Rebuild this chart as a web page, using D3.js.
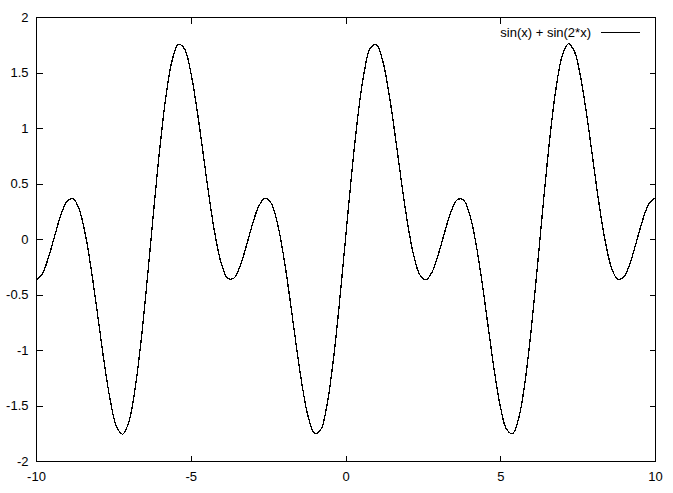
<!DOCTYPE html>
<html>
<head>
<meta charset="utf-8">
<script src="https://cdn.jsdelivr.net/npm/d3@7"></script>
<style>
  body { margin: 0; background: #fff; }
  svg text { font-family: "Liberation Sans", Arial, sans-serif; font-size: 13px; fill: #000; }
</style>
</head>
<body>
<svg id="chart" width="673" height="493"></svg>
<script>
// sin(x) + sin(2*x), sampled every 0.2 from -10 to 10
const xStart = -10;
const xStep = 0.2;
const yValues = [
    -0.369, -0.315, -0.169, 0.025, 0.212, 0.339, 0.364, 0.263, 0.033, -0.303,
    -0.701, -1.106, -1.454, -1.687, -1.759, -1.648, -1.353, -0.904, -0.348, 0.249,
    0.816, 1.287, 1.610, 1.754, 1.712, 1.503, 1.170, 0.771, 0.367, 0.017,
    -0.233, -0.356, -0.351, -0.239, -0.058, 0.138, 0.296, 0.368, 0.321, 0.143,
    -0.153, -0.531, -0.941, -1.320, -1.608, -1.751, -1.717, -1.497, -1.107, -0.588,
    0,
    0.588, 1.107, 1.497, 1.717, 1.751, 1.608, 1.320, 0.941, 0.531, 0.153,
    -0.143, -0.321, -0.368, -0.296, -0.138, 0.058, 0.239, 0.351, 0.356, 0.233,
    -0.017, -0.367, -0.771, -1.170, -1.503, -1.712, -1.754, -1.610, -1.287, -0.816,
    -0.249, 0.348, 0.904, 1.353, 1.648, 1.759, 1.687, 1.454, 1.106, 0.701,
    0.303, -0.033, -0.263, -0.364, -0.339, -0.212, -0.025, 0.169, 0.315, 0.369
];
const xTicks = [-10, -5, 0, 5, 10];
const yTicks = [-2, -1.5, -1, -0.5, 0, 0.5, 1, 1.5, 2];
const seriesName = "sin(x) + sin(2*x)";

function render() {
    const width = 673;
    const height = 493;
    const margin = { top: 17, right: 18, bottom: 32, left: 36 };
    const tickLen = 6;

    var svg = d3.select("#chart");

    var x = d3.scaleLinear()
        .domain([-10, 10])
        .range([margin.left, width - margin.right]);

    var y = d3.scaleLinear()
        .domain([-2, 2])
        .range([height - margin.bottom, margin.top]);

    var data = yValues.map(function (v, i) {
        return { x: xStart + i * xStep, y: v };
    });

    // Axes: labels on bottom/left, mirrored ticks on top/right, all pointing inward.
    var bottom = svg.append("g")
        .attr("transform", "translate(0," + (y.range()[0] + 0.5) + ")")
        .call(d3.axisBottom(x).tickValues(xTicks).tickSize(-tickLen).tickPadding(10)
            .tickFormat(function (d) { return String(d); }));

    var left = svg.append("g")
        .attr("transform", "translate(" + (x.range()[0] + 0.5) + ",0)")
        .call(d3.axisLeft(y).tickValues(yTicks).tickSize(-tickLen).tickPadding(8)
            .tickFormat(function (d) { return String(d); }));

    svg.append("g")
        .attr("transform", "translate(0," + (y.range()[1] + 0.5) + ")")
        .call(d3.axisTop(x).tickValues(xTicks).tickSize(-tickLen).tickFormat(""));

    svg.append("g")
        .attr("transform", "translate(" + (x.range()[1] + 0.5) + ",0)")
        .call(d3.axisRight(y).tickValues(yTicks).tickSize(-tickLen).tickFormat(""));

    svg.selectAll(".domain").remove();
    svg.selectAll(".tick line").attr("stroke", "#000").attr("shape-rendering", "crispEdges");
    svg.selectAll(".tick text")
        .style("font-family", "'Liberation Sans', Arial, sans-serif")
        .style("font-size", "13px")
        .attr("fill", "#000");

    // Plot frame
    svg.append("rect")
        .attr("x", x.range()[0] + 0.5)
        .attr("y", y.range()[1] + 0.5)
        .attr("width", x.range()[1] - x.range()[0])
        .attr("height", y.range()[0] - y.range()[1])
        .attr("fill", "none")
        .attr("stroke", "#000")
        .attr("shape-rendering", "crispEdges");

    var line = d3.line()
        .x(function (d) { return x(d.x); })
        .y(function (d) { return y(d.y); })
        .curve(d3.curveCatmullRom.alpha(0.5));

    svg.append("path")
        .datum(data)
        .attr("d", line)
        .attr("fill", "none")
        .attr("stroke", "#000")
        .attr("stroke-width", 1.3)
        .attr("shape-rendering", "crispEdges");

    // Key in the top right corner
    const keyY = 32;
    svg.append("text")
        .attr("x", 591)
        .attr("y", keyY)
        .attr("dy", "0.35em")
        .attr("text-anchor", "end")
        .text(seriesName);

    svg.append("line")
        .attr("x1", 601)
        .attr("x2", 640)
        .attr("y1", keyY + 0.5)
        .attr("y2", keyY + 0.5)
        .attr("stroke", "#000")
        .attr("shape-rendering", "crispEdges");
}

render();
</script>
</body>
</html>
